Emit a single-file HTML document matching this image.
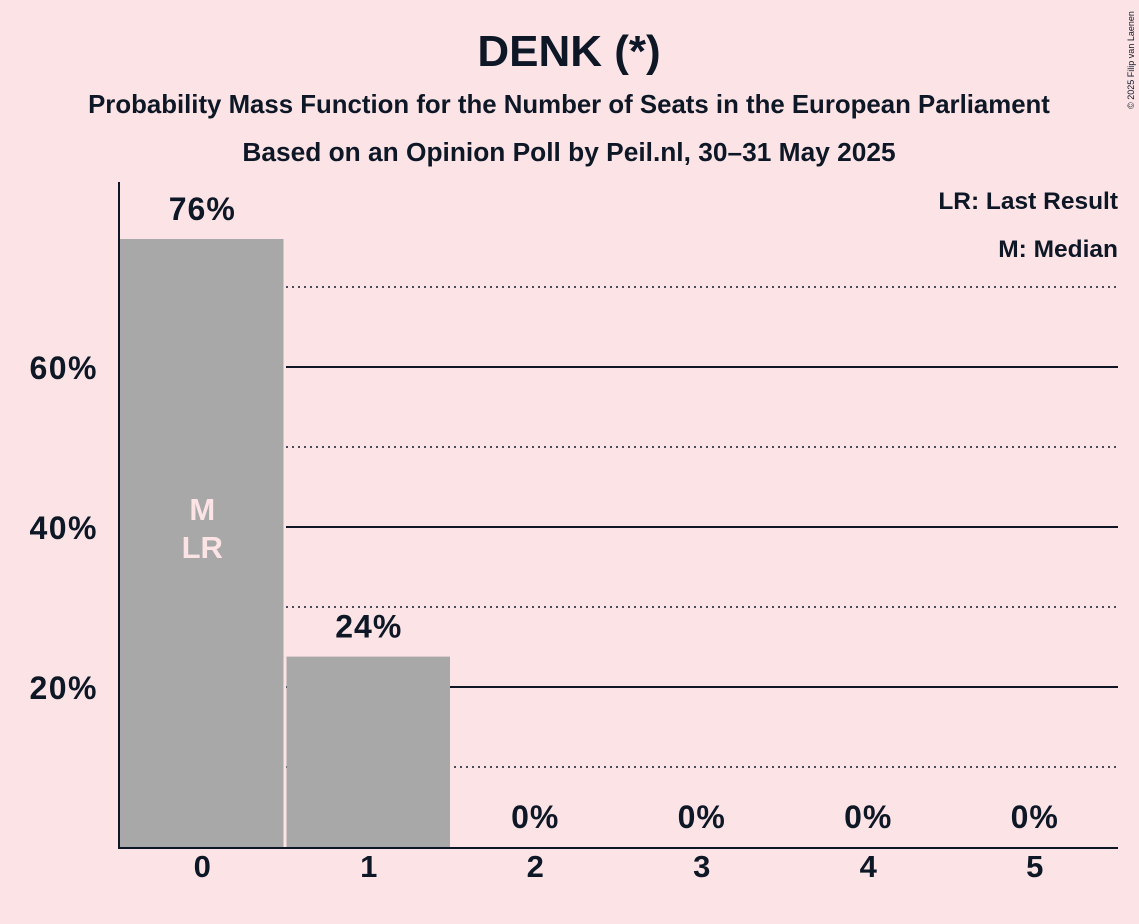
<!DOCTYPE html>
<html><head><meta charset="utf-8"><style>
body{margin:0;background:#fce4e6;}
svg{display:block;font-family:"Liberation Sans",sans-serif;font-weight:bold;fill:#0d1726;}
</style></head><body>
<svg id="chart" width="1139" height="924">
<rect width="1139" height="924" fill="#fce4e6"/>
<text x="569" y="66" font-size="44" text-anchor="middle">DENK (*)</text>
<text x="569" y="113" font-size="25.8" text-anchor="middle">Probability Mass Function for the Number of Seats in the European Parliament</text>
<text x="569" y="161" font-size="26.3" text-anchor="middle">Based on an Opinion Poll by Peil.nl, 30–31 May 2025</text>
<text x="1118" y="209" font-size="24.5" text-anchor="end">LR: Last Result</text>
<text x="1118" y="257" font-size="24.5" text-anchor="end">M: Median</text>
<text transform="translate(1134,60) rotate(-90)" font-size="9" font-weight="normal" text-anchor="middle">© 2025 Filip van Laenen</text>
<g id="grid"></g><g id="bars"></g><g id="labels"></g>
<line x1="119" y1="182" x2="119" y2="848" stroke="#0d1726" stroke-width="2"/>
<line x1="118" y1="848" x2="1118" y2="848" stroke="#0d1726" stroke-width="2"/>
</svg>
<script>
const categories=["0","1","2","3","4","5"];
const values=[76,23.8,0,0,0,0];
const valueLabels=["76%","24%","0%","0%","0%","0%"];
const solidTicks=[20,40,60];
const dottedTicks=[10,30,50,70];
const tickLabels=["20%","40%","60%"];
const medianIndex=0, lastResultIndex=0;
const NS="http://www.w3.org/2000/svg";
const x0=119,slot=166.5,base=847,ppp=8,right=1118,gx=286;
const y=v=>base-v*ppp;
const xc=i=>x0+slot*i+slot/2;
function mk(t,a,p){const e=document.createElementNS(NS,t);for(const k in a)e.setAttribute(k,a[k]);p.appendChild(e);return e;}
const grid=document.getElementById('grid'),bars=document.getElementById('bars'),labels=document.getElementById('labels');
dottedTicks.forEach(v=>{const l=mk('line',{x1:gx,x2:right,y1:y(v),y2:y(v),stroke:'#0d1726','stroke-width':1.5,'stroke-dasharray':'2,4'},grid);

});
solidTicks.forEach((v,i)=>{const l=mk('line',{x1:gx,x2:right,y1:y(v),y2:y(v),stroke:'#0d1726','stroke-width':2},grid);


const t=mk('text',{x:98,y:y(v)+12,'font-size':32,'letter-spacing':1.5,'text-anchor':'end'},labels);t.textContent=tickLabels[i];

});
categories.forEach((c,i)=>{
const v=values[i];
if(v>0){const r=mk('rect',{x:x0+slot*i+1,y:y(v),width:slot-3,height:v*ppp,fill:'#a8a8a8'},bars);

}
const t=mk('text',{x:xc(i),y:y(v)-19,'font-size':32,'letter-spacing':1,'text-anchor':'middle'},labels);t.textContent=valueLabels[i];


const xl=mk('text',{x:xc(i),y:877,'font-size':31,'text-anchor':'middle'},labels);xl.textContent=c;


});
const m=mk('text',{x:xc(medianIndex),y:520,'font-size':31,'text-anchor':'middle',fill:'#fce4e6'},labels);m.textContent='M';


const lr=mk('text',{x:xc(lastResultIndex),y:558,'font-size':31,'text-anchor':'middle',fill:'#fce4e6'},labels);lr.textContent='LR';


</script>
</body></html>
